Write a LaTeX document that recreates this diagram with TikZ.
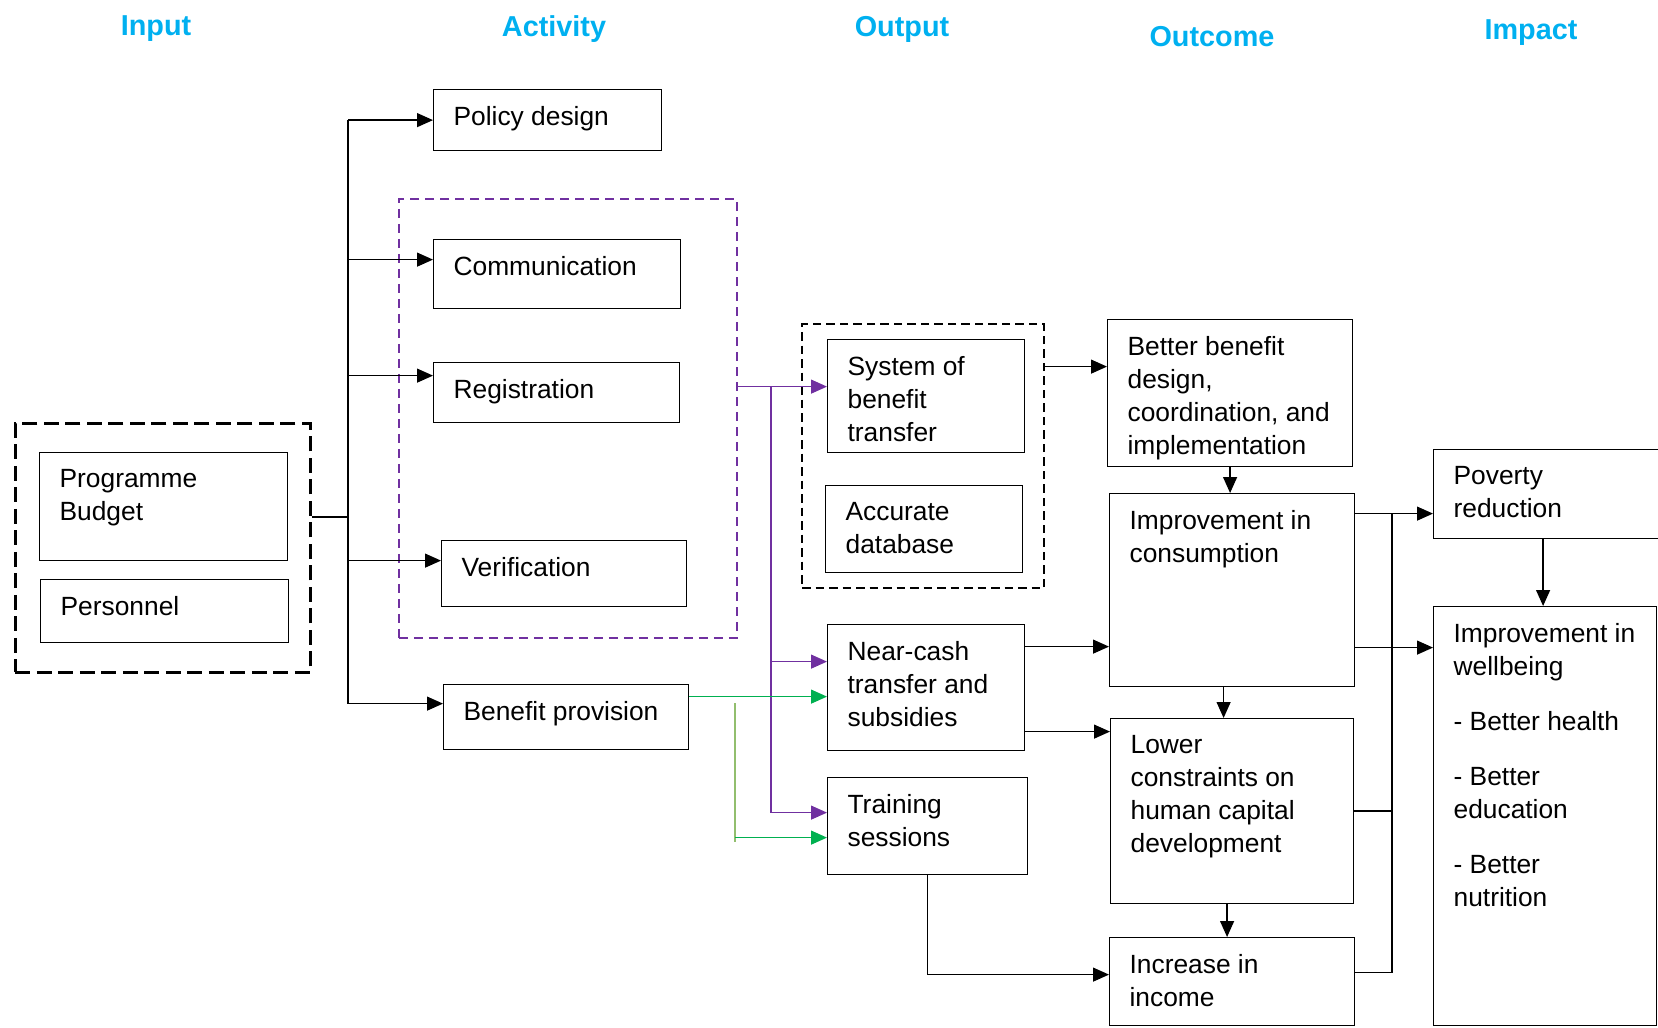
\documentclass[tikz,border=0pt]{standalone}
\usepackage{fontspec}
\setmainfont{Liberation Sans}
\usepackage{xcolor}
\usepackage{tikz}
\usetikzlibrary{arrows.meta}

\definecolor{headblue}{RGB}{0,176,240}
\definecolor{actpurple}{RGB}{112,48,160}
\definecolor{provgreen}{RGB}{0,176,80}
\definecolor{palegreen}{RGB}{146,190,110}

% text set at the top left of a box of fixed size
\newcommand{\boxtext}[3]{\parbox[c][#2][t]{#1}{\raggedright #3}}

\tikzset{
  box/.style={draw, rectangle, anchor=north west, line width=0.7pt, inner xsep=0.4cm, inner ysep=0.34cm,
    font=\fontsize{15}{18.8}\selectfont},
  group/.style={draw, rectangle, anchor=north west, line width=1.5pt, inner sep=0pt},
  head/.style={text=headblue, font=\fontsize{16.4}{20}\selectfont\bfseries},
  line/.style={line width=0.7pt},
  arr/.style={line width=0.7pt, -{Triangle[length=0.32cm,width=0.28cm]}},
}

\begin{document}
\begin{tikzpicture}[x=0.02cm, y=-0.02cm]
  \useasboundingbox (0,0) rectangle (1658,1028);

  % Column heads
  \node[head] (h-input) at (156,29) {Input};
  \node[head] (h-activity) at (554,29) {Activity};
  \node[head] (h-output) at (902,29) {Output};
  \node[head] (h-outcome) at (1212,37) {Outcome};
  \node[head] (h-impact) at (1531,33) {Impact};

  % Input
  \node[group, dash pattern=on 0.3cm off 0.13cm, minimum width=5.9cm, minimum height=4.98cm] (inputgrp) at (14,422) {};
  \node[box] (budget) at (39,452) {\boxtext{4.16cm}{1.48cm}{Programme\\ Budget}};
  \node[box] (personnel) at (40,579) {\boxtext{4.16cm}{0.58cm}{Personnel}};

  % Activity
  \node[group, draw=actpurple, line width=1.1pt, dash pattern=on 0.18cm off 0.12cm, minimum width=6.76cm, minimum height=8.78cm] (actgrp) at (398,198) {};
  \node[box] (policy) at (433,89) {\boxtext{3.76cm}{0.54cm}{Policy design}};
  \node[box] (comm) at (433,239) {\boxtext{4.14cm}{0.70cm}{Communication}};
  \node[box] (reg) at (433,362) {\boxtext{4.12cm}{0.52cm}{Registration}};
  \node[box] (verif) at (441,540) {\boxtext{4.10cm}{0.64cm}{Verification}};
  \node[box] (benefit) at (443,684) {\boxtext{4.10cm}{0.62cm}{Benefit provision}};

  % Output
  \node[group, line width=1.3pt, dash pattern=on 0.17cm off 0.1cm, minimum width=4.84cm, minimum height=5.28cm] (outgrp) at (801,323) {};
  \node[box] (system) at (827,339) {\boxtext{3.14cm}{1.58cm}{System of\\ benefit\\ transfer}};
  \node[box] (database) at (825,485) {\boxtext{3.14cm}{1.06cm}{Accurate\\ database}};
  \node[box] (nearcash) at (827,624) {\boxtext{3.14cm}{1.84cm}{Near-cash\\ transfer and\\ subsidies}};
  \node[box] (training) at (827,777) {\boxtext{3.20cm}{1.26cm}{Training\\ sessions}};

  % Outcome
  \node[box] (better) at (1107,319) {\boxtext{4.10cm}{2.26cm}{Better benefit\\ design,\\ coordination, and\\ implementation}};
  \node[box] (consumption) at (1109,493) {\boxtext{4.10cm}{3.18cm}{Improvement in\\ consumption}};
  \node[box] (lower) at (1110,718) {\boxtext{4.06cm}{3.02cm}{Lower\\ constraints on\\ human capital\\ development}};
  \node[box] (increase) at (1109,937) {\boxtext{4.10cm}{1.08cm}{Increase in\\ income}};

  % Impact
  \node[box] (poverty) at (1433,449) {\boxtext{3.78cm}{1.10cm}{Poverty\\ reduction}};
  \node[box] (wellbeing) at (1433,606) {\boxtext{3.66cm}{7.70cm}{Improvement in\\ wellbeing\\[0.44cm] - Better health\\[0.44cm] - Better\\ education\\[0.44cm] - Better\\ nutrition}};

  % Input to activities
  \coordinate (trunk) at (348,517);
  \coordinate (policy-in) at (policy.west);
  \coordinate (comm-in) at ([yshift=0.29cm]comm.west);
  \coordinate (reg-in) at ([yshift=0.34cm]reg.west);
  \coordinate (verif-in) at ([yshift=0.26cm]verif.west);
  \coordinate (benefit-in) at ([yshift=0.27cm]benefit.west);
  \draw[line] (inputgrp.east |- trunk) -- (trunk);
  \draw[line] (trunk |- policy-in) -- (trunk |- benefit-in);
  \foreach \act in {policy,comm,reg,verif,benefit}
    \draw[arr] (trunk |- \act-in) -- (\act-in);

  % Activities to outputs (purple)
  \coordinate (system-in) at ([yshift=0.19cm]system.west);
  \coordinate (nearcash-pin) at ([yshift=0.52cm]nearcash.west);
  \coordinate (training-pin) at ([yshift=0.27cm]training.west);
  \coordinate (pbranch) at (771,386);
  \draw[arr, draw=actpurple, fill=actpurple] (actgrp.east |- system-in) -- (system-in);
  \draw[line, draw=actpurple] (pbranch) -- (pbranch |- training-pin);
  \draw[arr, draw=actpurple, fill=actpurple] (pbranch |- nearcash-pin) -- (nearcash-pin);
  \draw[arr, draw=actpurple, fill=actpurple] (pbranch |- training-pin) -- (training-pin);

  % Benefit provision to outputs (green)
  \coordinate (benefit-out) at ([yshift=0.41cm]benefit.east);
  \coordinate (training-gin) at ([yshift=-0.23cm]training.west);
  \coordinate (gtop) at (735,703);
  \coordinate (gbot) at (735,842);
  \draw[arr, draw=provgreen, fill=provgreen] (benefit-out) -- (nearcash.west |- benefit-out);
  \draw[line, draw=palegreen] (gtop) -- (gbot);
  \draw[arr, draw=provgreen, fill=provgreen] (gbot |- training-gin) -- (training-gin);

  % Outputs to outcomes
  \coordinate (better-in) at ([yshift=0.53cm]better.west);
  \draw[arr] (outgrp.east |- better-in) -- (better-in);
  \draw[arr] ([yshift=0.82cm]nearcash.east) coordinate (n-top) -- (n-top -| consumption.west);
  \draw[arr] ([yshift=-0.88cm]nearcash.east) coordinate (n-bot) -- (n-bot -| lower.west);
  \draw[arr] (training.south) |- ([yshift=0.14cm]increase.west);

  % Between outcomes
  \draw[arr] (better.south) -- (better.south |- consumption.north);
  \draw[arr] ([xshift=-0.17cm]consumption.south) coordinate (c-out) -- (c-out |- lower.north);
  \draw[arr] ([xshift=-0.1cm]lower.south) coordinate (l-out) -- (l-out |- increase.north);

  % Outcomes to impact
  \coordinate (poverty-in) at ([yshift=-0.39cm]poverty.west);
  \coordinate (collect) at (1392,513);
  \coordinate (inc-out) at ([yshift=0.18cm]increase.east);
  \draw[arr] (consumption.east |- poverty-in) -- (poverty-in);
  \draw[arr] ([yshift=-1.15cm]consumption.east) coordinate (c-right) -- (c-right -| wellbeing.west);
  \draw[line] (collect) -- (collect |- inc-out);
  \draw[line] (lower.east) -- (collect |- lower.east);
  \draw[line] (inc-out) -- (collect |- inc-out);
  \draw[arr] ([xshift=-0.1cm]poverty.south) coordinate (p-out) -- (p-out |- wellbeing.north);

\end{tikzpicture}
\end{document}
